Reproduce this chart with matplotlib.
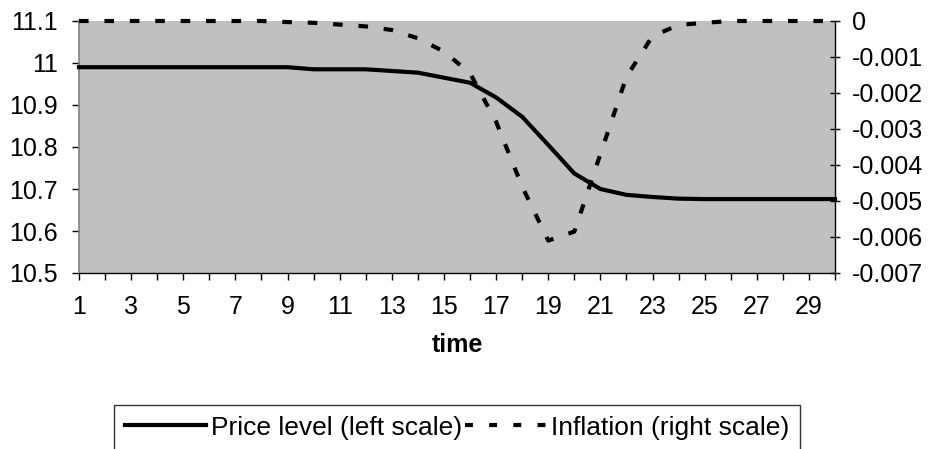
import matplotlib
matplotlib.use("Agg")
import matplotlib.pyplot as plt
from matplotlib.lines import Line2D

plt.rcParams['font.family'] = ['Liberation Sans', 'DejaVu Sans']

periods = list(range(1, 31))
price_level = [10.99] * 9 + [10.985, 10.985, 10.985, 10.981, 10.977, 10.965, 10.953,
                             10.918, 10.872, 10.805, 10.737, 10.700, 10.686, 10.681,
                             10.677, 10.676, 10.676, 10.676, 10.676, 10.676, 10.676]
inflation = [0] * 8 + [-0.00003, -0.00005, -0.0001, -0.00015, -0.00025, -0.00048,
                       -0.00085, -0.00145, -0.0028, -0.0046, -0.0061, -0.00585,
                       -0.0037, -0.00155, -0.00042, -0.00011, -0.00005, 0, 0, 0, 0, 0]
xtick_labels = [str(p) if p % 2 == 1 else '' for p in periods]
left_ticks = [10.5, 10.6, 10.7, 10.8, 10.9, 11.0, 11.1]
left_labels = ['10.5', '10.6', '10.7', '10.8', '10.9', '11', '11.1']
right_ticks = [-0.007, -0.006, -0.005, -0.004, -0.003, -0.002, -0.001, 0]
right_labels = ['-0.007', '-0.006', '-0.005', '-0.004', '-0.003', '-0.002', '-0.001', '0']

W, H = 933, 449
fig = plt.figure(figsize=(W / 100, H / 100), dpi=100)
L, R, T, B = 79, 835, 21, 273
ax = fig.add_axes([L / W, (H - B) / H, (R - L) / W, (B - T) / H])
ax.set_facecolor('#C0C0C0')
ax2 = ax.twinx()

fs = 18
lw = 3.0
dash = (0, (2.3, 3.8))
legend_dash = (0, (1.9, 3.9))

ax.plot(periods, price_level, color='black', lw=lw, solid_joinstyle='round', zorder=3, clip_on=False)
ax2.plot(periods, inflation, color='black', lw=lw, linestyle=dash, zorder=3, clip_on=False)

ax.set_xlim(1, 30)
ax.set_ylim(10.5, 11.1)
ax2.set_ylim(-0.007, 0)

ax.set_xticks(periods)
ax.set_xticklabels(xtick_labels, fontsize=fs)
ax.set_yticks(left_ticks)
ax.set_yticklabels(left_labels, fontsize=fs)
ax2.set_yticks(right_ticks)
ax2.set_yticklabels(right_labels, fontsize=fs)

ax.tick_params(axis='x', direction='out', length=5, width=1, pad=11, color='black')
ax.tick_params(axis='y', direction='out', length=5, width=1, pad=10, color='black')
ax2.tick_params(axis='y', direction='inout', length=7, width=1, pad=9, color='black')

for a in (ax, ax2):
    a.spines['top'].set_visible(False)
ax.spines['right'].set_visible(False)
ax2.spines['left'].set_visible(False)
ax2.spines['bottom'].set_visible(False)
ax.spines['left'].set_color('#808080')
ax.spines['left'].set_linewidth(1.2)
ax.spines['bottom'].set_color('black')
ax.spines['bottom'].set_linewidth(1.0)
ax2.spines['right'].set_color('black')
ax2.spines['right'].set_linewidth(1.0)

ax.set_xlabel('time', fontsize=fs, fontweight='bold', labelpad=10)

handles = [Line2D([], [], color='black', lw=lw),
           Line2D([], [], color='black', lw=lw, linestyle=legend_dash)]
labels = ['Price level (left scale)', 'Inflation (right scale)']
leg = fig.legend(handles, labels, loc='upper left', bbox_to_anchor=(114 / W, 1 - 405 / H),
                 ncol=2, fontsize=19, frameon=True, fancybox=False, edgecolor='black',
                 handlelength=3.07, handletextpad=0.2, columnspacing=0.1,
                 borderpad=0.4, borderaxespad=0)
leg.get_frame().set_linewidth(1.0)

fig.savefig('out.png', dpi=100)
